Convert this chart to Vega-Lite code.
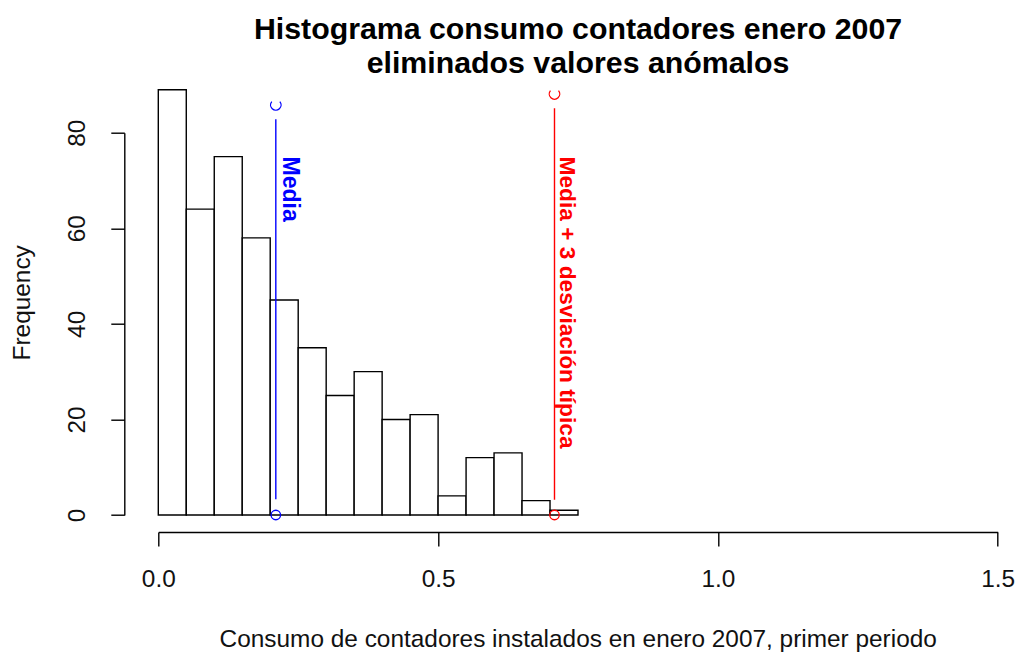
{
  "$schema": "https://vega.github.io/schema/vega-lite/v6.json",
  "width": 839.4,
  "height": 382.3,
  "autosize": "none",
  "padding": {"left": 158.3, "top": 132.7, "right": 19.3, "bottom": 137},
  "background": "white",
  "config": {"view": {"stroke": null}, "font": "Liberation Sans"},
  "title": {
    "text": ["Histograma consumo contadores enero 2007", "eliminados valores anómalos"],
    "font": "Liberation Sans",
    "fontSize": 30.3,
    "fontWeight": "bold",
    "color": "#000000",
    "lineHeight": 34,
    "anchor": "middle",
    "frame": "group",
    "baseline": "alphabetic",
    "offset": -15
  },
  "datasets": {
    "bins": [
      {"desde": 0.0, "hasta": 0.05, "frecuencia": 89},
      {"desde": 0.05, "hasta": 0.1, "frecuencia": 64},
      {"desde": 0.1, "hasta": 0.15, "frecuencia": 75},
      {"desde": 0.15, "hasta": 0.2, "frecuencia": 58},
      {"desde": 0.2, "hasta": 0.25, "frecuencia": 45},
      {"desde": 0.25, "hasta": 0.3, "frecuencia": 35},
      {"desde": 0.3, "hasta": 0.35, "frecuencia": 25},
      {"desde": 0.35, "hasta": 0.4, "frecuencia": 30},
      {"desde": 0.4, "hasta": 0.45, "frecuencia": 20},
      {"desde": 0.45, "hasta": 0.5, "frecuencia": 21},
      {"desde": 0.5, "hasta": 0.55, "frecuencia": 4},
      {"desde": 0.55, "hasta": 0.6, "frecuencia": 12},
      {"desde": 0.6, "hasta": 0.65, "frecuencia": 13},
      {"desde": 0.65, "hasta": 0.7, "frecuencia": 3},
      {"desde": 0.7, "hasta": 0.75, "frecuencia": 1}
    ],
    "referencias": [
      {"serie": "Media", "valor": 0.21, "base": 0, "linea_ini": 3.3, "linea_fin": 82.8, "tope": 85.8, "y_texto": 75},
      {"serie": "Media + 3 desviación típica", "valor": 0.708, "base": 0, "linea_ini": 3.2, "linea_fin": 85.1, "tope": 88.1, "y_texto": 75}
    ]
  },
  "layer": [
    {
      "data": {"name": "bins"},
      "mark": {"type": "bar", "fill": "white", "stroke": "#000000", "strokeWidth": 1.4},
      "encoding": {
        "x": {
          "field": "desde",
          "type": "quantitative",
          "title": "Consumo de contadores instalados en enero 2007, primer periodo",
          "scale": {"domain": [0, 1.5], "nice": false, "zero": false},
          "axis": {
            "values": [0, 0.5, 1, 1.5],
            "format": ".1f",
            "offset": 17,
            "grid": false,
            "domainColor": "#000000",
            "domainWidth": 1.4,
            "tickColor": "#000000",
            "tickWidth": 1.4,
            "tickSize": 14,
            "labelFontSize": 24.4,
            "labelColor": "#111111",
            "labelBaseline": "alphabetic",
            "labelPadding": 40,
            "labelFlush": false,
            "labelOverlap": false,
            "titleFontSize": 24.4,
            "titleFontWeight": "normal",
            "titleColor": "#111111",
            "titleX": 419.4,
            "titleY": 114,
            "titleAlign": "center",
            "titleBaseline": "alphabetic"
          }
        },
        "x2": {"field": "hasta"},
        "y": {
          "field": "frecuencia",
          "type": "quantitative",
          "title": "Frequency",
          "scale": {"domain": [0, 80], "nice": false},
          "axis": {
            "values": [0, 20, 40, 60, 80],
            "offset": 34,
            "grid": false,
            "domainColor": "#000000",
            "domainWidth": 1.4,
            "tickColor": "#000000",
            "tickWidth": 1.4,
            "tickSize": 13.5,
            "labelFontSize": 24.4,
            "labelColor": "#111111",
            "labelAngle": 270,
            "labelAlign": "center",
            "labelBaseline": "alphabetic",
            "labelPadding": 26,
            "labelFlush": false,
            "labelOverlap": false,
            "titleFontSize": 24.4,
            "titleFontWeight": "normal",
            "titleColor": "#111111",
            "titleAngle": 270,
            "titleX": -94.4,
            "titleY": 169.6,
            "titleAlign": "center",
            "titleBaseline": "alphabetic"
          }
        },
        "y2": {"datum": 0}
      }
    },
    {
      "data": {"name": "referencias"},
      "mark": {"type": "rule", "strokeWidth": 1.4},
      "encoding": {
        "x": {"field": "valor", "type": "quantitative", "title": "Consumo de contadores instalados en enero 2007, primer periodo"},
        "y": {"field": "linea_ini", "type": "quantitative", "title": "Frequency"},
        "y2": {"field": "linea_fin"},
        "color": {
          "field": "serie",
          "type": "nominal",
          "scale": {"domain": ["Media", "Media + 3 desviación típica"], "range": ["#0000ff", "#ff0000"]},
          "legend": null
        }
      }
    },
    {
      "data": {"name": "referencias"},
      "mark": {"type": "point", "shape": "circle", "filled": false, "size": 90, "strokeWidth": 1.3, "opacity": 1},
      "encoding": {
        "x": {"field": "valor", "type": "quantitative", "title": "Consumo de contadores instalados en enero 2007, primer periodo"},
        "y": {"field": "base", "type": "quantitative", "title": "Frequency"},
        "color": {"field": "serie", "type": "nominal", "legend": null}
      }
    },
    {
      "data": {"name": "referencias"},
      "mark": {"type": "point", "shape": "M -0.77 -0.64 A 1 1 0 1 0 0.77 -0.64", "filled": false, "size": 110, "strokeWidth": 1.3, "opacity": 1},
      "encoding": {
        "x": {"field": "valor", "type": "quantitative", "title": "Consumo de contadores instalados en enero 2007, primer periodo"},
        "y": {"field": "tope", "type": "quantitative", "title": "Frequency"},
        "color": {"field": "serie", "type": "nominal", "legend": null}
      }
    },
    {
      "data": {"name": "referencias"},
      "transform": [{"filter": "datum.serie === 'Media'"}],
      "mark": {"type": "text", "angle": 90, "align": "left", "baseline": "alphabetic", "dy": -7.5, "fontSize": 23, "fontWeight": "bold", "font": "Liberation Sans"},
      "encoding": {
        "x": {"field": "valor", "type": "quantitative", "title": "Consumo de contadores instalados en enero 2007, primer periodo"},
        "y": {"field": "y_texto", "type": "quantitative", "title": "Frequency"},
        "text": {"field": "serie"},
        "color": {"field": "serie", "type": "nominal", "legend": null}
      }
    },
    {
      "data": {"name": "referencias"},
      "transform": [{"filter": "datum.serie !== 'Media'"}],
      "mark": {"type": "text", "angle": 90, "align": "left", "baseline": "alphabetic", "dy": -6, "fontSize": 22.7, "fontWeight": "bold", "font": "Liberation Sans"},
      "encoding": {
        "x": {"field": "valor", "type": "quantitative", "title": "Consumo de contadores instalados en enero 2007, primer periodo"},
        "y": {"field": "y_texto", "type": "quantitative", "title": "Frequency"},
        "text": {"field": "serie"},
        "color": {"field": "serie", "type": "nominal", "legend": null}
      }
    }
  ]
}
